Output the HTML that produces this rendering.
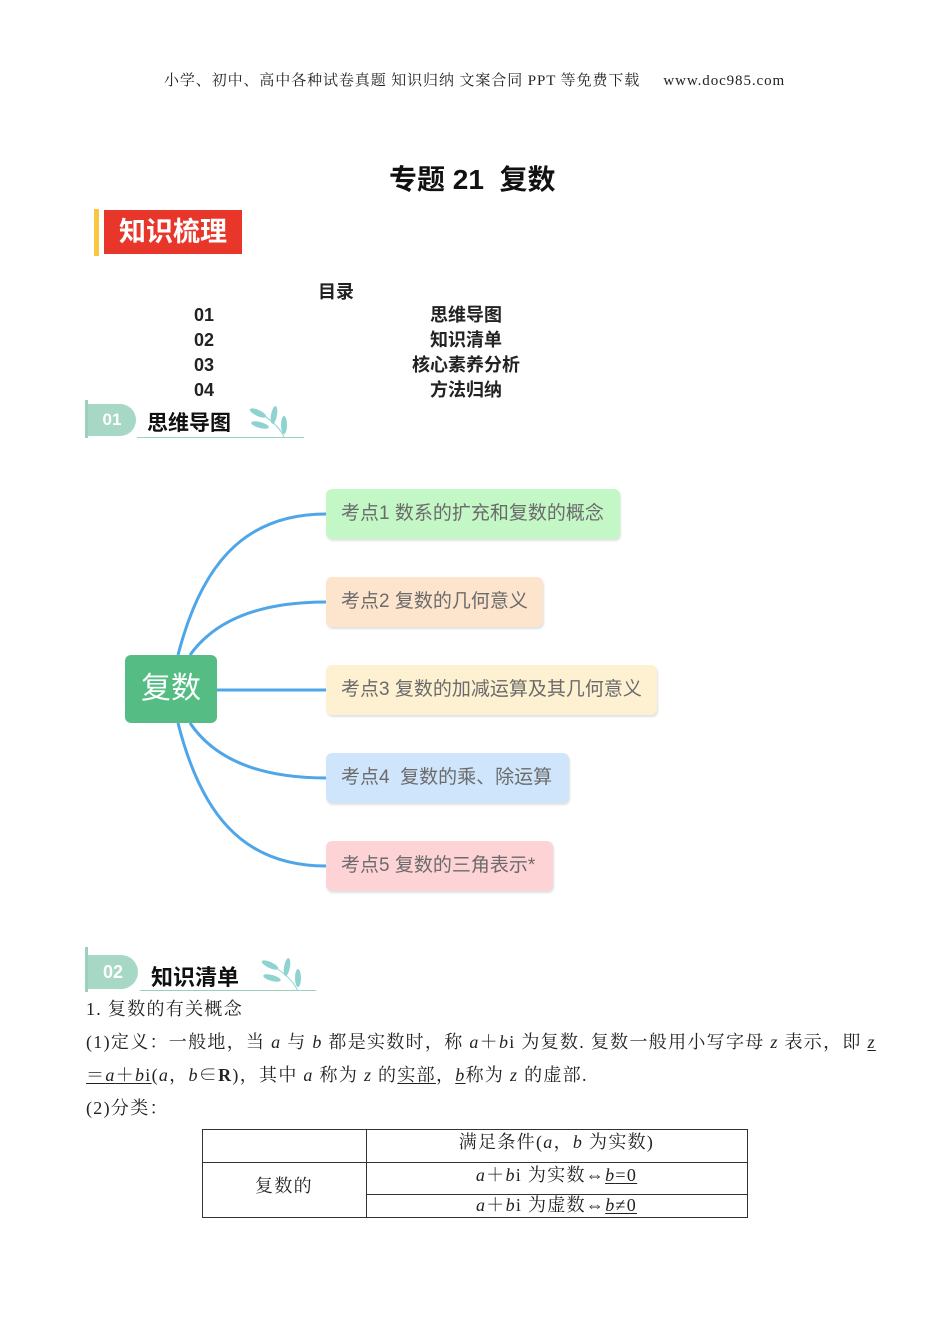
<!DOCTYPE html>
<html><head><meta charset="utf-8"><style>
body{margin:0;background:#fff;}
#p{position:relative;width:950px;height:1344px;overflow:hidden;font-family:"Liberation Serif","Noto Serif CJK SC",serif;color:#222;}
.a{position:absolute;white-space:nowrap;}
.s{font-family:"Liberation Sans","Noto Sans CJK SC",sans-serif;}
.box{position:absolute;height:50px;border-radius:6px;box-shadow:1px 2px 2px rgba(0,0,0,0.12);font-family:"Liberation Sans","Noto Sans CJK SC",sans-serif;font-size:19px;color:#6b6b6b;line-height:50px;padding-left:15px;box-sizing:border-box;}
.t{font-size:18px;letter-spacing:1.3px;line-height:22px;}
u{text-underline-offset:2px;}
i{font-style:italic;}
</style></head><body><div id="p">
<div class="a" style="left:164px;top:69px;font-size:15px;letter-spacing:0.9px;">小学、初中、高中各种试卷真题 知识归纳 文案合同 PPT 等免费下载 &nbsp;&nbsp;&nbsp;&nbsp;www.doc985.com</div>
<div class="a s" style="left:389px;top:158px;font-size:28px;font-weight:bold;color:#111;">专题 21 &nbsp;复数</div>
<div class="a" style="left:94px;top:209px;width:5px;height:47px;background:#f9c63f;"></div>
<div class="a s" style="left:104px;top:210px;width:138px;height:44px;background:#e8372a;color:#fff;font-size:27px;font-weight:bold;line-height:44px;text-align:center;">知识梳理</div>
<div class="a s" style="left:318px;top:278px;font-size:18px;font-weight:bold;">目录</div>
<div class="a s" style="left:194px;top:303px;font-size:18px;font-weight:bold;line-height:25px;">01<br>02<br>03<br>04</div>
<div class="a s" style="left:400px;top:303px;width:132px;text-align:center;font-size:18px;font-weight:bold;line-height:25px;">思维导图<br>知识清单<br>核心素养分析<br>方法归纳</div>
<!-- header 01 -->
<div class="a" style="left:85px;top:400px;width:3px;height:38px;background:#9cd0bb;"></div>
<div class="a s" style="left:88px;top:404px;width:48px;height:32px;background:#a6d8c5;border-radius:0 16px 16px 0;color:#fff;font-weight:bold;font-size:17px;line-height:32px;text-align:center;">01</div>
<div class="a s" style="left:147px;top:407px;font-size:21px;font-weight:bold;color:#111;">思维导图</div>
<div class="a" style="left:137px;top:437px;width:167px;height:1px;background:#9cd0bb;"></div>
<svg class="a" style="left:248px;top:403px" width="44" height="36"><g fill="#8fd3d0"><ellipse cx="10" cy="10" rx="9" ry="3" transform="rotate(25 10 10)"/><ellipse cx="12" cy="22" rx="9" ry="3" transform="rotate(15 12 22)"/><ellipse cx="26" cy="12" rx="3" ry="9" transform="rotate(10 26 12)"/><ellipse cx="36" cy="22" rx="3" ry="9"/></g><path d="M8 8 Q30 20 36 34" stroke="#8fd3d0" fill="none"/></svg>
<!-- mind map -->
<svg class="a" style="left:0;top:0" width="950" height="950">
<g fill="none" stroke="#4ea6e8" stroke-width="3">
<path d="M178 655 C 200 570, 240 514, 326 514"/>
<path d="M190 655 C 215 620, 260 602, 326 602"/>
<path d="M217 690 L326 690"/>
<path d="M190 723 C 215 760, 260 778, 326 778"/>
<path d="M178 723 C 200 810, 240 866, 326 866"/>
</g></svg>
<div class="a s" style="left:125px;top:655px;width:92px;height:68px;background:#55bd84;border-radius:6px;color:#fff;font-size:30px;line-height:68px;text-align:center;">复数</div>
<div class="box" style="left:326px;top:489px;width:294px;background:#c3f7c5;">考点1 数系的扩充和复数的概念</div>
<div class="box" style="left:326px;top:577px;width:217px;background:#fde4cc;">考点2 复数的几何意义</div>
<div class="box" style="left:326px;top:665px;width:331px;background:#fdf1d2;">考点3 复数的加减运算及其几何意义</div>
<div class="box" style="left:326px;top:753px;width:243px;background:#cfe5fb;">考点4 &nbsp;复数的乘、除运算</div>
<div class="box" style="left:326px;top:841px;width:227px;background:#fdd3d5;">考点5 复数的三角表示*</div>
<!-- header 02 -->
<div class="a" style="left:85px;top:947px;width:3px;height:45px;background:#9cd0bb;"></div>
<div class="a s" style="left:88px;top:955px;width:50px;height:34px;background:#a6d8c5;border-radius:0 17px 17px 0;color:#fff;font-weight:bold;font-size:18px;line-height:34px;text-align:center;">02</div>
<div class="a s" style="left:151px;top:960px;font-size:22px;font-weight:bold;color:#111;">知识清单</div>
<div class="a" style="left:140px;top:990px;width:176px;height:1px;background:#9cd0bb;"></div>
<svg class="a" style="left:260px;top:955px" width="46" height="38"><g fill="#8fd3d0"><ellipse cx="10" cy="10" rx="9" ry="3" transform="rotate(25 10 10)"/><ellipse cx="12" cy="23" rx="9" ry="3" transform="rotate(15 12 23)"/><ellipse cx="27" cy="12" rx="3" ry="9" transform="rotate(10 27 12)"/><ellipse cx="38" cy="23" rx="3" ry="9"/></g><path d="M8 8 Q31 21 38 36" stroke="#8fd3d0" fill="none"/></svg>
<div class="a t" style="left:86px;top:998px;">1. 复数的有关概念</div>
<div class="a t" style="left:86px;top:1031px;">(1)定义：一般地，当 <i>a</i> 与 <i>b</i> 都是实数时，称 <i>a</i>＋<i>b</i>i 为复数. 复数一般用小写字母 <i>z</i> 表示，即 <u><i>z</i></u></div>
<div class="a t" style="left:86px;top:1064px;"><u>＝<i>a</i>＋<i>b</i>i</u>(<i>a</i>，<i>b</i>∈<b>R</b>)，其中 <i>a</i> 称为 <i>z</i> 的<u>实部</u>，<u><i>b</i></u>称为 <i>z</i> 的虚部.</div>
<div class="a t" style="left:86px;top:1097px;">(2)分类：</div>
<div class="a" style="left:202px;top:1129px;width:546px;height:89px;border:1px solid #333;box-sizing:border-box;"></div>
<div class="a" style="left:366px;top:1129px;width:1px;height:88px;background:#333;"></div>
<div class="a" style="left:202px;top:1162px;width:545px;height:1px;background:#333;"></div>
<div class="a" style="left:366px;top:1194px;width:381px;height:1px;background:#333;"></div>
<div class="a t" style="left:366px;top:1131px;width:381px;text-align:center;">满足条件(<i>a</i>，<i>b</i> 为实数)</div>
<div class="a t" style="left:202px;top:1175px;width:164px;text-align:center;">复数的</div>
<div class="a t" style="left:366px;top:1164px;width:381px;text-align:center;"><i>a</i>＋<i>b</i>i 为实数⇔<u><i>b</i>=0</u></div>
<div class="a t" style="left:366px;top:1195px;width:381px;text-align:center;line-height:20px;"><i>a</i>＋<i>b</i>i 为虚数⇔<u><i>b</i>≠0</u></div>
</div></body></html>
